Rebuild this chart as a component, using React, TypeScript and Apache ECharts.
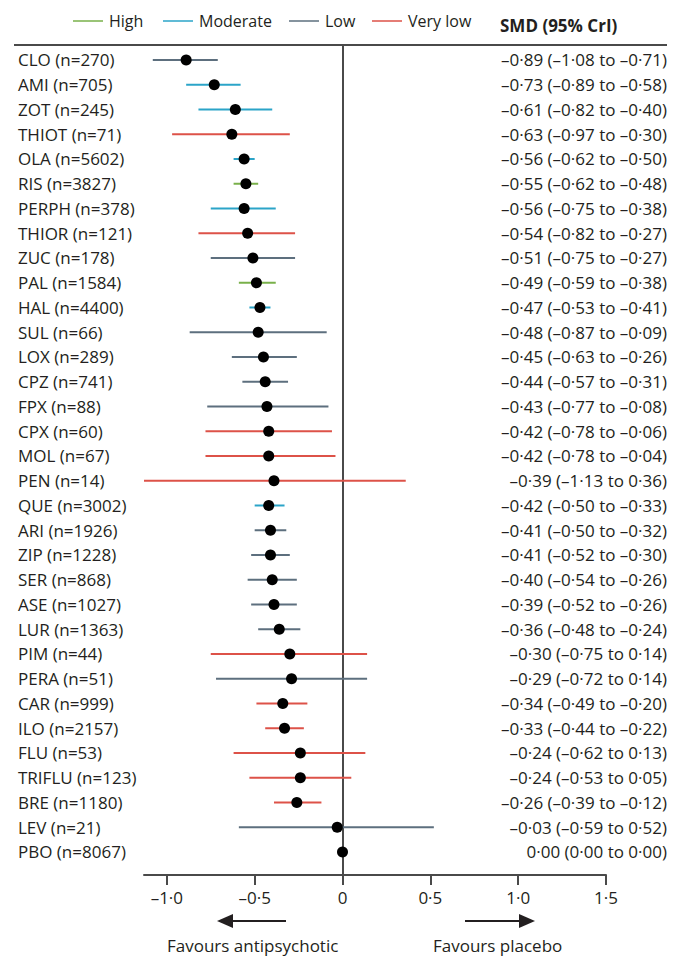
import React, { useEffect, useRef } from "react";
import * as echarts from "echarts";

const drugs = ["CLO","AMI","ZOT","THIOT","OLA","RIS","PERPH","THIOR","ZUC","PAL","HAL","SUL","LOX","CPZ","FPX","CPX","MOL","PEN","QUE","ARI","ZIP","SER","ASE","LUR","PIM","PERA","CAR","ILO","FLU","TRIFLU","BRE","LEV","PBO"];
const sampleSizes = [270,705,245,71,5602,3827,378,121,178,1584,4400,66,289,741,88,60,67,14,3002,1926,1228,868,1027,1363,44,51,999,2157,53,123,1180,21,8067];
const smd = [-0.89,-0.73,-0.61,-0.63,-0.56,-0.55,-0.56,-0.54,-0.51,-0.49,-0.47,-0.48,-0.45,-0.44,-0.43,-0.42,-0.42,-0.39,-0.42,-0.41,-0.41,-0.40,-0.39,-0.36,-0.30,-0.29,-0.34,-0.33,-0.24,-0.24,-0.26,-0.03,0.00];
const lower = [-1.08,-0.89,-0.82,-0.97,-0.62,-0.62,-0.75,-0.82,-0.75,-0.59,-0.53,-0.87,-0.63,-0.57,-0.77,-0.78,-0.78,-1.13,-0.50,-0.50,-0.52,-0.54,-0.52,-0.48,-0.75,-0.72,-0.49,-0.44,-0.62,-0.53,-0.39,-0.59,0.00];
const upper = [-0.71,-0.58,-0.40,-0.30,-0.50,-0.48,-0.38,-0.27,-0.27,-0.38,-0.41,-0.09,-0.26,-0.31,-0.08,-0.06,-0.04,0.36,-0.33,-0.32,-0.30,-0.26,-0.26,-0.24,0.14,0.14,-0.20,-0.22,0.13,0.05,-0.12,0.52,0.00];
const evidence = ["Low","Moderate","Moderate","Very low","Moderate","High","Moderate","Very low","Low","High","Moderate","Low","Low","Low","Low","Very low","Very low","Very low","Moderate","Low","Low","Low","Low","Low","Very low","Low","Very low","Very low","Very low","Very low","Very low","Low",""];
const legendLevels = ["High","Moderate","Low","Very low"];
const xTicks = [-1.0,-0.5,0,0.5,1.0,1.5];

const levelColors: Record<string,string> = {
  "High": "#79b04a",
  "Moderate": "#2ba4c8",
  "Low": "#5d6f7e",
  "Very low": "#dd5248",
};

const FONT = "'Open Sans', 'Noto Sans', sans-serif";
const TEXT = "#231f20";
const DARK = "#4a4a4a";

function fmt2(v: number) {
  const s = Math.abs(v).toFixed(2).replace(".", "\u00b7");
  return (v < 0 ? "\u2013" : "") + s;
}
function fmtTick(v: number) {
  if (v === 0) return "0";
  const s = Math.abs(v).toFixed(1).replace(".", "\u00b7");
  return (v < 0 ? "\u2013" : "") + s;
}

export default function App() {
  const ref = useRef<HTMLDivElement>(null);
  useEffect(() => {
    document.body.style.margin = "0";
    const chart = echarts.init(ref.current!, null, { renderer: "svg" });
    const rows = drugs.map((_, i) => i);

    const legendX = [73, 163, 289, 372];
    const legendGraphics: any[] = [];
    legendLevels.forEach((lv, k) => {
      legendGraphics.push({
        type: "line",
        shape: { x1: legendX[k], y1: 21, x2: legendX[k] + 30, y2: 21 },
        style: { stroke: levelColors[lv], lineWidth: 1.5 },
      });
      legendGraphics.push({
        type: "text",
        x: legendX[k] + 36,
        y: 21,
        style: { text: lv, fill: TEXT, fontSize: 16, fontFamily: FONT, textVerticalAlign: "middle" },
      });
    });

    chart.setOption({
      animation: false,
      grid: { left: 144, right: 74, top: 45, height: 830, containLabel: false },
      xAxis: {
        type: "value",
        min: -1.13,
        max: 1.5,
        axisLine: { show: true, onZero: false, lineStyle: { color: DARK, width: 2 } },
        axisTick: { show: true, length: 10, customValues: xTicks, lineStyle: { color: DARK, width: 2 } },
        axisLabel: {
          customValues: xTicks,
          formatter: (v: number) => fmtTick(v),
          color: TEXT, fontSize: 17, fontFamily: FONT, margin: 14,
        },
        splitLine: { show: false },
      },
      yAxis: {
        type: "value",
        inverse: true,
        min: -0.606,
        max: 32.93,
        axisLine: { show: true, onZero: true, lineStyle: { color: DARK, width: 2 } },
        axisTick: { show: false },
        axisLabel: { show: false },
        splitLine: { show: false },
      },
      graphic: [
        {
          type: "line",
          shape: { x1: 14, y1: 45, x2: 667, y2: 45 },
          style: { stroke: DARK, lineWidth: 2 },
        },
        ...legendGraphics,
        {
          type: "text",
          x: 500,
          y: 25,
          style: { text: "SMD (95% CrI)", fill: TEXT, fontSize: 17, fontWeight: "bold", fontFamily: FONT, textVerticalAlign: "middle" },
        },
        { type: "line", shape: { x1: 286, y1: 921, x2: 228, y2: 921 }, style: { stroke: TEXT, lineWidth: 2 } },
        { type: "polygon", shape: { points: [[217, 921], [233, 914], [233, 928]] }, style: { fill: TEXT } },
        { type: "line", shape: { x1: 465, y1: 921, x2: 524, y2: 921 }, style: { stroke: TEXT, lineWidth: 2 } },
        { type: "polygon", shape: { points: [[535, 921], [519, 914], [519, 928]] }, style: { fill: TEXT } },
        {
          type: "text", x: 167, y: 945,
          style: { text: "Favours antipsychotic", fill: TEXT, fontSize: 17, fontFamily: FONT, textVerticalAlign: "middle" },
        },
        {
          type: "text", x: 433, y: 945,
          style: { text: "Favours placebo", fill: TEXT, fontSize: 17, fontFamily: FONT, textVerticalAlign: "middle" },
        },
      ],
      series: [
        {
          type: "custom",
          name: "CrI",
          data: rows.map((i) => [lower[i], i, upper[i]]),
          encode: { x: [0, 2], y: 1 },
          renderItem: (params: any, api: any) => {
            const idx = params.dataIndex;
            const lv = evidence[idx];
            if (!lv) return null;
            const p1 = api.coord([api.value(0), api.value(1)]);
            const p2 = api.coord([api.value(2), api.value(1)]);
            return {
              type: "line",
              shape: { x1: p1[0], y1: p1[1], x2: p2[0], y2: p2[1] },
              style: { stroke: levelColors[lv], lineWidth: 2 },
            };
          },
          z: 3,
        },
        {
          type: "scatter",
          name: "SMD",
          data: rows.map((i) => [smd[i], i]),
          symbol: "circle",
          symbolSize: 11,
          itemStyle: { color: "#000", opacity: 1 },
          z: 4,
        },
        {
          type: "custom",
          name: "labels",
          data: rows.map((i) => [0, i]),
          encode: { x: 0, y: 1 },
          clip: false,
          renderItem: (params: any, api: any) => {
            const idx = params.dataIndex;
            const y = api.coord([0, api.value(1)])[1];
            return {
              type: "group",
              children: [
                {
                  type: "text", x: 18, y,
                  style: {
                    text: `${drugs[idx]} (n=${sampleSizes[idx]})`,
                    fill: TEXT, fontSize: 17, fontFamily: FONT,
                    textAlign: "left", textVerticalAlign: "middle",
                  },
                },
                {
                  type: "text", x: 667, y,
                  style: {
                    text: `${fmt2(smd[idx])} (${fmt2(lower[idx])} to ${fmt2(upper[idx])})`,
                    fill: TEXT, fontSize: 17, fontFamily: FONT,
                    textAlign: "right", textVerticalAlign: "middle",
                  },
                },
              ],
            };
          },
          z: 2,
        },
      ],
    });
    return () => chart.dispose();
  }, []);
  return <div ref={ref} style={{ width: 680, height: 960 }} />;
}
